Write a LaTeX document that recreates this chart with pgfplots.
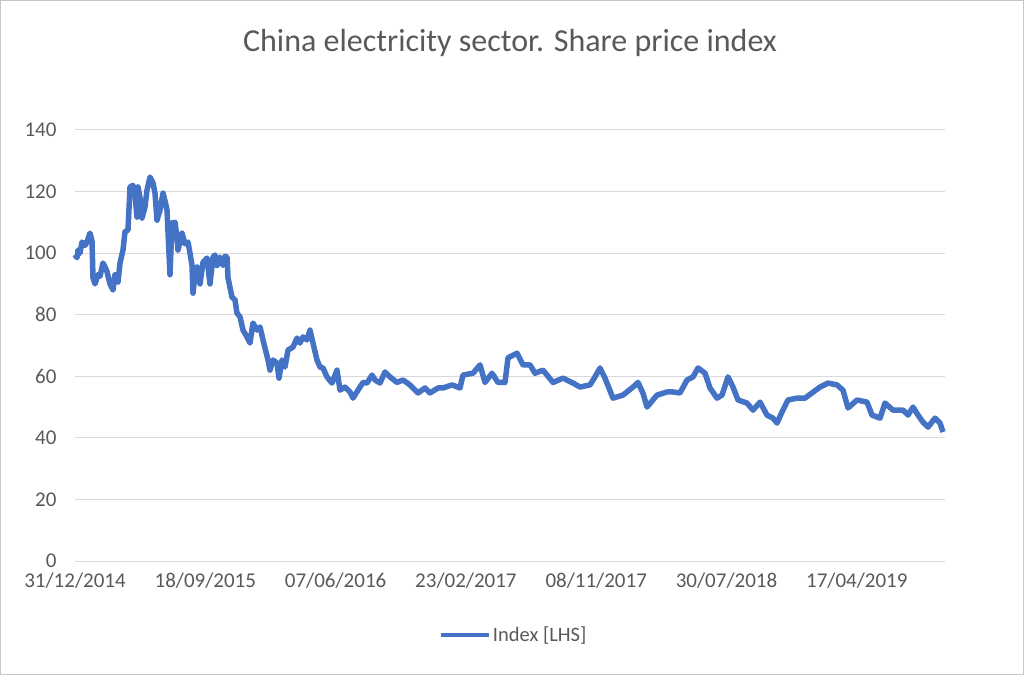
\documentclass[border=0pt]{standalone}
\usepackage{pgfplots}
\pgfplotsset{compat=1.18}
\usepackage{fontspec}
\setmainfont{Carlito}
\definecolor{lineblue}{HTML}{4472C4}
\definecolor{txtgray}{HTML}{595959}
\definecolor{gridgray}{HTML}{D9D9D9}
\begin{document}
\begin{tikzpicture}
\begin{axis}[
  at={(0,0)}, anchor=south west,
  scale only axis, width=870pt, height=431pt,
  xmin=0, xmax=870, ymin=0, ymax=140,
  ytick={0,20,...,140},
  xtick={0,130.3,260.6,390.9,521.2,651.5,781.8},
  xticklabels={31/12/2014,18/09/2015,07/06/2016,23/02/2017,08/11/2017,30/07/2018,17/04/2019},
  ymajorgrids, grid style={gridgray, line width=1pt},
  axis line style={draw=none},
  major tick length=0pt,
  tick label style={font=\fontsize{21}{24}\selectfont, text=txtgray},
  /pgf/number format/assume math mode=true,
  xticklabel style={yshift=-8pt},
  yticklabel style={xshift=-15pt},
  legend style={at={(0.504,-0.172)}, anchor=center, draw=none, fill=none,
    font=\fontsize{20.5}{24}\selectfont, text=txtgray},
  legend cell align=left,
  legend image code/.code={\draw[lineblue, line width=4.5pt] (0pt,0pt) -- (48pt,0pt);},
  clip=false,
]
\addplot[lineblue, line width=5.5pt, line join=round] coordinates {
(0,99.5)(2,98.5)(3,101)(5,100)(7,103.6)(10,102.5)(12,103.6)(15,106.5)(17,104)(18,92)(20,90)(23,93)(25,92.5)(28,96.8)(30,95.5)(32,94)(35,90)(38,88)(40,93)(43,90.6)(45,96.8)(48,101)(50,107)(53,107.5)(55,121.5)(58,122)(60,119)(62,111.7)(63,121.5)(65,118)(67,111.4)(70,115)(72,120.5)(75,124.7)(78,122.8)(80,119.5)(82,110.7)(85,114)(88,119.5)(90,117)(92,114)(95,93)(97,109.8)(100,110)(102,105)(103,101)(107,106.5)(110,103)(113,103.6)(115,100)(117,96)(118,87)(120,93)(122,95.5)(125,90)(128,97)(132,98.4)(135,90)(138,98.7)(140,99.4)(142,96)(145,98.7)(148,96)(150,99)(152,98.7)(153,92)(157,85.7)(160,84.8)(162,80.5)(165,79.3)(168,75)(172,72.8)(175,70.8)(178,77.3)(182,75)(185,76)(188,71.8)(193,65.3)(195,62)(198,65.3)(202,64.3)(204,59.4)(207,65.3)(210,63)(213,68.5)(218,69.5)(222,72.4)(225,70.8)(228,72.8)(232,71.8)(235,75)(238,70.8)(242,65.3)(245,63)(248,62.7)(252,59.8)(257,57.8)(262,62)(265,55.5)(270,56.5)(275,54.9)(278,52.9)(283,55.5)(288,58)(292,57.8)(297,60.4)(300,58.8)(305,57.8)(310,61.4)(315,59.8)(322,58)(328,58.8)(335,57.2)(343,54.6)(350,56.2)(355,54.6)(363,56.2)(368,56.2)(377,57.2)(385,56.2)(388,60.4)(398,61)(405,63.7)(410,58)(417,61)(423,58)(430,58)(433,66)(442,67.5)(448,63.7)(455,63.7)(460,61)(468,62)(478,58)(488,59.4)(498,57.8)(505,56.5)(515,57.2)(520,59.8)(525,62.7)(530,59.4)(538,52.9)(548,53.9)(558,56.5)(563,58)(568,54.5)(572,50)(582,53.9)(592,54.9)(598,54.9)(605,54.6)(612,58.8)(618,59.8)(623,62.7)(630,61)(635,56.2)(642,52.9)(647,53.9)(653,59.8)(658,56.5)(663,52.3)(672,51.3)(678,49)(685,51.6)(692,47.4)(698,46.4)(702,44.8)(707,48.4)(713,52.3)(722,52.9)(730,52.9)(737,54.6)(745,56.5)(753,57.8)(762,57.2)(768,55.5)(773,49.7)(782,52.3)(792,51.6)(797,47.4)(805,46.4)(810,51.3)(818,49)(828,49)(833,47.4)(838,50)(843,47.4)(848,45.1)(853,43.5)(860,46.4)(865,44.8)(868,41.9)
};
\addlegendentry{Index [LHS]}
\end{axis}
\node[text=txtgray, font=\fontsize{32}{38}\selectfont] at (435pt,518pt) {China electricity sector. Share price index};
\draw[gray!45, line width=1.5pt] (-74.25pt,-113.25pt) rectangle (948.25pt,560.25pt);
\end{tikzpicture}
\end{document}
